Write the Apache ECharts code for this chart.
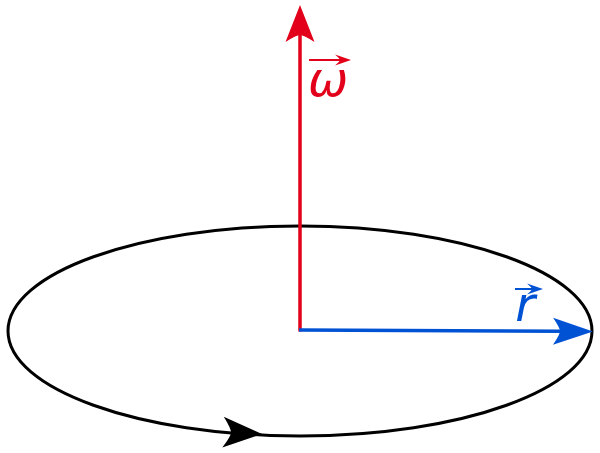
<!DOCTYPE html>
<html>
<head>
<meta charset="utf-8">
<style>html,body{margin:0;padding:0;background:#fff;}#c{width:600px;height:453px;}</style>
<script src="https://cdn.jsdelivr.net/npm/echarts@6/dist/echarts.min.js"></script>
</head>
<body>
<div id="c"></div>
<script>
// ---- data (diagram units, y grows downward) ----
const ellipseCenter = [300, 331];
const ellipseRadii = [292, 105];
const vectorNames = ['ω', 'r'];
const vectorStarts = [[300, 331.5], [299, 330]];
const vectorEnds = [[300, 5], [593, 331.5]];
const labelAnchors = [[328, 84], [525, 309]];
const directionTip = [262, 434];

// ---- styles ----
const RED = '#e2001a', BLUE = '#0052d4', BLACK = '#000000';
const vectorColors = [RED, BLUE];
const vectorHeads = [{L: 37, W: 14.5, d: 7}, {L: 40, W: 13.5, d: 7}];
const overArrow = [{x0: -19, x1: 23, dy: -24}, {x0: -10, x1: 18, dy: -20}];

function headPath(tx, ty, ang, L, W, d) {
  const c = Math.cos(ang), s = Math.sin(ang);
  const p = (u, v) => [tx + u * c - v * s, ty + u * s + v * c];
  const t = p(0, 0), a = p(-L, -W), qa = p(-L + d, -W * 0.25), n = p(-L + d, 0),
        qb = p(-L + d, W * 0.25), b = p(-L, W);
  const f = q => q[0].toFixed(2) + ' ' + q[1].toFixed(2);
  return 'M' + f(t) + ' L' + f(a) + ' Q' + f(qa) + ' ' + f(n) + ' Q' + f(qb) + ' ' + f(b) + ' Z';
}

const chart = echarts.init(document.getElementById('c'), null, {renderer: 'canvas'});
chart.setOption({
  animation: false,
  backgroundColor: '#ffffff',
  grid: {left: 0, right: 0, top: 0, bottom: 0},
  xAxis: {type: 'value', min: 0, max: 600, show: false},
  yAxis: {type: 'value', min: 0, max: 453, inverse: true, show: false},
  series: [
    {
      type: 'custom', name: 'orbit', coordinateSystem: 'cartesian2d',
      data: [[ellipseCenter[0], ellipseCenter[1], ellipseRadii[0], ellipseRadii[1], directionTip[0], directionTip[1]]],
      renderItem: function (params, api) {
        const c = api.coord([api.value(0), api.value(1)]);
        const ex = api.coord([api.value(0) + api.value(2), api.value(1)]);
        const ey = api.coord([api.value(0), api.value(1) + api.value(3)]);
        const rx = Math.abs(ex[0] - c[0]), ry = Math.abs(ey[1] - c[1]);
        const k = 0.5522847;
        const cx = c[0], cy = c[1];
        const path = 'M' + (cx - rx) + ' ' + cy +
          ' C' + (cx - rx) + ' ' + (cy - k * ry) + ' ' + (cx - k * rx) + ' ' + (cy - ry) + ' ' + cx + ' ' + (cy - ry) +
          ' C' + (cx + k * rx) + ' ' + (cy - ry) + ' ' + (cx + rx) + ' ' + (cy - k * ry) + ' ' + (cx + rx) + ' ' + cy +
          ' C' + (cx + rx) + ' ' + (cy + k * ry) + ' ' + (cx + k * rx) + ' ' + (cy + ry) + ' ' + cx + ' ' + (cy + ry) +
          ' C' + (cx - k * rx) + ' ' + (cy + ry) + ' ' + (cx - rx) + ' ' + (cy + k * ry) + ' ' + (cx - rx) + ' ' + cy + ' Z';
        const tip = api.coord([api.value(4), api.value(5)]);
        const dx = tip[0] - cx, dy = tip[1] - cy;
        const ang = Math.atan2(-ry * dx / rx, rx * dy / ry);
        return {
          type: 'group',
          children: [
            {type: 'path', shape: {pathData: path}, style: {fill: null, stroke: BLACK, lineWidth: 3}},
            {type: 'path', shape: {pathData: headPath(tip[0], tip[1], ang, 39, 15.5, 8)}, style: {fill: BLACK, stroke: null}}
          ]
        };
      }
    },
    {
      type: 'custom', name: 'vectors', coordinateSystem: 'cartesian2d',
      data: vectorNames.map((n, i) => [vectorStarts[i][0], vectorStarts[i][1], vectorEnds[i][0], vectorEnds[i][1], labelAnchors[i][0], labelAnchors[i][1]]),
      renderItem: function (params, api) {
        const i = params.dataIndex;
        const col = vectorColors[i], h = vectorHeads[i];
        const s = api.coord([api.value(0), api.value(1)]);
        const e = api.coord([api.value(2), api.value(3)]);
        const ang = Math.atan2(e[1] - s[1], e[0] - s[0]);
        const back = h.L - h.d;
        const ex = e[0] - Math.cos(ang) * back, ey = e[1] - Math.sin(ang) * back;
        const la = api.coord([api.value(4), api.value(5)]);
        const oa = overArrow[i];
        const ay = la[1] + oa.dy;
        return {
          type: 'group',
          children: [
            {type: 'line', shape: {x1: s[0], y1: s[1], x2: ex, y2: ey}, style: {stroke: col, lineWidth: 3.5}},
            {type: 'path', shape: {pathData: headPath(e[0], e[1], ang, h.L, h.W, h.d)}, style: {fill: col, stroke: null}},
            {type: 'text', x: la[0], y: la[1], style: {text: vectorNames[i], fill: col, fontSize: 48, fontStyle: 'italic', fontFamily: 'DejaVu Sans', align: 'center', verticalAlign: 'middle'}},
            {type: 'line', shape: {x1: la[0] + oa.x0, y1: ay, x2: la[0] + oa.x1 - 10, y2: ay}, style: {stroke: col, lineWidth: 2}},
            {type: 'path', shape: {pathData: headPath(la[0] + oa.x1, ay, 0, 16, 5.5, 5)}, style: {fill: col, stroke: null}}
          ]
        };
      }
    }
  ]
});
</script>
</body>
</html>
